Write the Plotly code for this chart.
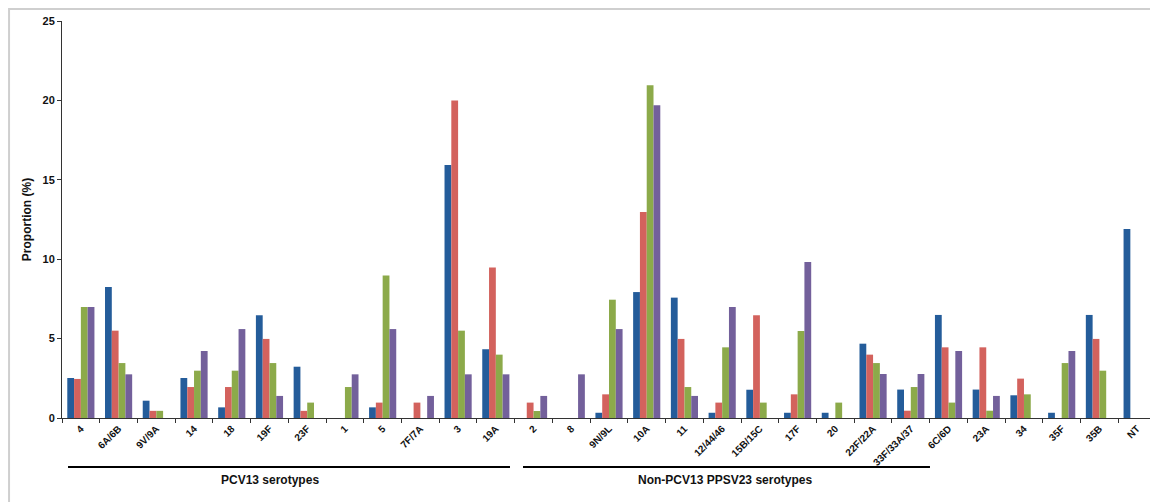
import plotly.graph_objects as go

categories = ["4", "6A/6B", "9V/9A", "14", "18", "19F", "23F", "1", "5", "7F/7A", "3", "19A",
              "2", "8", "9N/9L", "10A", "11", "12/44/46", "15B/15C", "17F", "20", "22F/22A",
              "33F/33A/37", "6C/6D", "23A", "34", "35F", "35B", "NT"]

series1 = [2.52, 8.25, 1.09, 2.52, 0.67, 6.47, 3.23, 0, 0.67, 0, 15.93, 4.33,
           0, 0, 0.33, 7.93, 7.58, 0.33, 1.78, 0.33, 0.33, 4.68,
           1.79, 6.49, 1.79, 1.43, 0.33, 6.49, 11.9]
series2 = [2.46, 5.5, 0.45, 1.95, 1.95, 4.98, 0.45, 0, 0.97, 0.97, 20.0, 9.47,
           0.97, 0, 1.49, 12.97, 4.98, 0.97, 6.47, 1.49, 0, 3.99,
           0.46, 4.45, 4.45, 2.48, 0, 4.98, 0]
series3 = [6.99, 3.46, 0.45, 2.98, 2.98, 3.46, 0.97, 1.95, 8.97, 0, 5.5, 3.99,
           0.44, 0, 7.45, 20.95, 1.95, 4.45, 0.97, 5.48, 0.97, 3.46,
           1.95, 0.97, 0.46, 1.49, 3.46, 2.98, 0]
series4 = [6.99, 2.75, 0, 4.22, 5.6, 1.39, 0, 2.75, 5.6, 1.39, 2.75, 2.75,
           1.39, 2.75, 5.6, 19.7, 1.39, 6.99, 0, 9.82, 0, 2.77,
           2.77, 4.22, 1.39, 0, 4.22, 0, 0]

series_names = ["Series 1", "Series 2", "Series 3", "Series 4"]
colors = ["#245C9A", "#D3625D", "#8CAA4A", "#73609B"]

group_labels = ["PCV13 serotypes", "Non-PCV13 PPSV23 serotypes"]

fig = go.Figure()
for name, vals, col in zip(series_names, [series1, series2, series3, series4], colors):
    fig.add_trace(go.Bar(x=categories, y=vals, name=name, marker_color=col,
                         marker_line_width=0))

# page body has an 8px margin, so the figure is placed at (8, 8)
fig.update_layout(
    width=1150, height=494,
    margin=dict(l=54, r=2, t=13, b=84, autoexpand=False),
    paper_bgcolor="white", plot_bgcolor="white",
    barmode="group", bargap=0.28, bargroupgap=0,
    showlegend=False,
    font=dict(family="Liberation Sans", color="#111111"),
)

fig.update_xaxes(
    type="category", showline=True, linecolor="#333333", linewidth=1,
    ticks="outside", tickson="boundaries", ticklen=4, tickcolor="#333333",
    tickangle=-45, tickfont=dict(size=10, family="Liberation Sans", weight="bold"),
    showgrid=False, zeroline=False, automargin=False,
)
fig.update_yaxes(
    range=[0, 25], dtick=5, showline=True, linecolor="#333333", linewidth=1,
    ticks="outside", ticklen=4, tickcolor="#333333",
    tickfont=dict(size=11, family="Liberation Sans", weight="bold"),
    showgrid=False, zeroline=False, automargin=False,
    title=dict(text="Proportion (%)", font=dict(size=12, family="Liberation Sans", weight="bold"),
               standoff=8),
)

# outer light-gray frame
fig.add_shape(type="rect", xref="paper", yref="paper",
              x0=-0.0484, x1=1.02, y0=-0.25, y1=1.0302,
              line=dict(color="#CFCFCF", width=2), fillcolor="rgba(0,0,0,0)", layer="below")

# group brackets
fig.add_shape(type="line", xref="paper", yref="paper", x0=0.0055, x1=0.4095, y0=-0.1234, y1=-0.1234,
              line=dict(color="black", width=2))
fig.add_shape(type="line", xref="paper", yref="paper", x0=0.4214, x1=0.7934, y0=-0.1234, y1=-0.1234,
              line=dict(color="black", width=2))
fig.add_annotation(text=group_labels[0], xref="paper", yref="paper", x=0.190, y=-0.157,
                   xanchor="center", yanchor="middle",
                   showarrow=False, font=dict(size=12, family="Liberation Sans", weight="bold"))
fig.add_annotation(text=group_labels[1], xref="paper", yref="paper", x=0.606, y=-0.157,
                   xanchor="center", yanchor="middle",
                   showarrow=False, font=dict(size=12, family="Liberation Sans", weight="bold"))

fig.write_html("out.html")
